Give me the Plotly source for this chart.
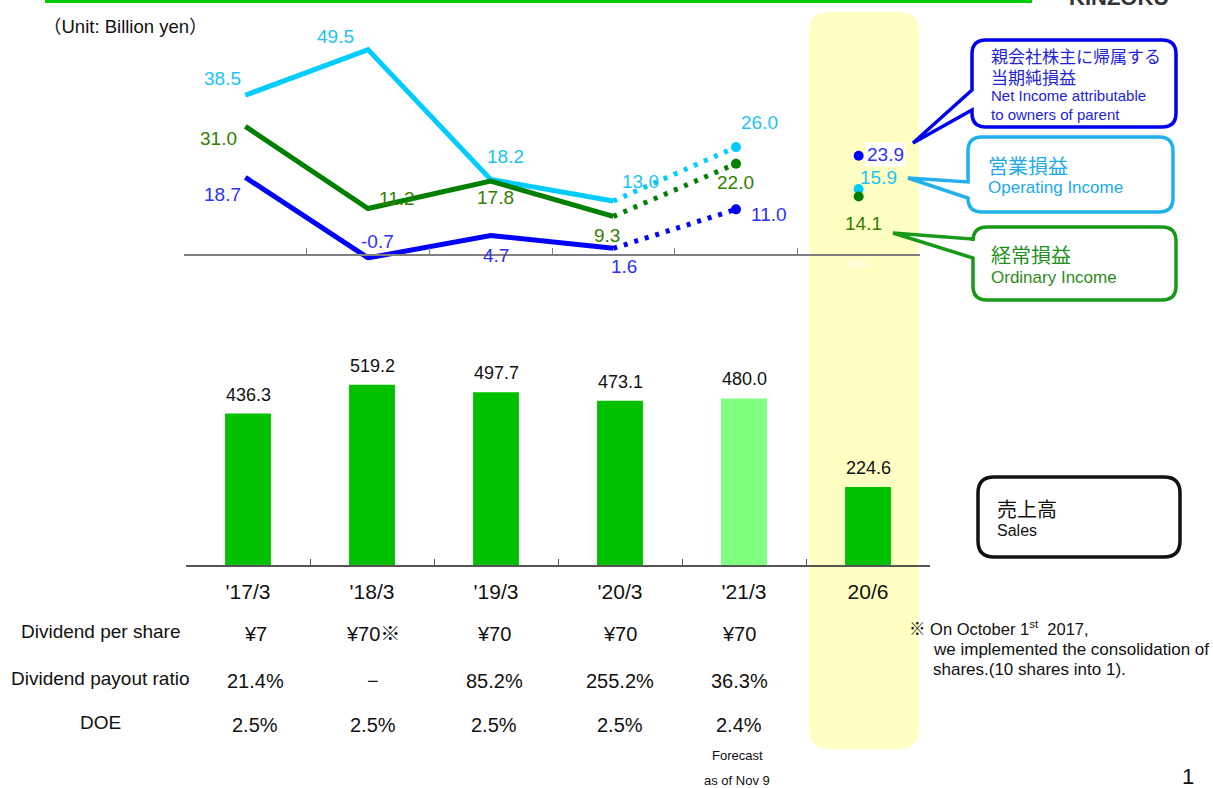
import plotly.graph_objects as go

# ---------------- data ----------------
categories = ["'17/3", "'18/3", "'19/3", "'20/3", "'21/3", "20/6"]
sales = [436.3, 519.2, 497.7, 473.1, 480.0, 224.6]
operating_income = [38.5, 49.5, 18.2, 13.0, 26.0, 15.9]
ordinary_income = [31.0, 11.2, 17.8, 9.3, 22.0, 14.1]
net_income = [18.7, -0.7, 4.7, 1.6, 11.0, 23.9]

table_rows = ["Dividend per share", "Dividend payout ratio", "DOE"]
dividend_per_share = ["¥7", "¥70※", "¥70", "¥70", "¥70"]
payout_ratio = ["21.4%", "−", "85.2%", "255.2%", "36.3%"]
doe = ["2.5%", "2.5%", "2.5%", "2.5%", "2.4%"]

# ---------------- helpers (pixel -> paper) ----------------
W, H = 1213, 788
def px(x):
    return x / W
def py(y):
    return 1 - y / H

FONT = "Liberation Sans, Arial, Noto Sans CJK JP, sans-serif"
JFONT = "Noto Sans CJK JP, Liberation Sans, sans-serif"

K_LINE = 4.15   # px per unit on the line chart
K_BAR = 0.347   # px per unit on the bar chart

fig = go.Figure()

# ---------------- line chart ----------------
series = [
    (operating_income, "#00CCFF", "#1EC3F0",
     [(-23, -17), (-33, -13), (15, -23), (27, -20), (23, -25), (20, -12)], None),
    (ordinary_income, "#008000", "#338000",
     [(-27, 12), (29, -10), (5, 16), (-6, 19), (-1, 19), (5, 27)], None),
    (net_income, "#0000FF", "#3030F0",
     [(-23, 17), (9, -16), (5, 20), (11, 18), (33, 5), (27, -1)], "white"),
]

annotations = []

for vals, lc, tc, offs, last_bg in series:
    fig.add_trace(go.Scatter(x=categories[:4], y=vals[:4], mode="lines",
                             line=dict(color=lc, width=5), xaxis="x", yaxis="y",
                             hoverinfo="skip", showlegend=False))
    fig.add_trace(go.Scatter(x=categories[3:5], y=vals[3:5], mode="lines",
                             line=dict(color=lc, width=5, dash="4px,7px"),
                             xaxis="x", yaxis="y", hoverinfo="skip", showlegend=False))
    fig.add_trace(go.Scatter(x=categories[4:], y=vals[4:], mode="markers",
                             marker=dict(color=lc, size=10),
                             xaxis="x", yaxis="y", hoverinfo="skip", showlegend=False))
    for i, (c, v) in enumerate(zip(categories, vals)):
        dx, dy = offs[i]
        a = dict(x=c, y=v, xref="x", yref="y", text=f"{v:.1f}", showarrow=False,
                 xshift=dx, yshift=-dy, font=dict(family=FONT, size=19, color=tc),
                 xanchor="center", yanchor="middle")
        if i == 5 and last_bg:
            a["bgcolor"] = last_bg
        annotations.append(a)

# ---------------- bar chart ----------------
bar_colors = ["#00C000", "#00C000", "#00C000", "#00C000", "#80FF80", "#00C000"]
fig.add_trace(go.Bar(x=categories, y=sales, marker=dict(color=bar_colors, line=dict(width=0)),
                     width=0.37, xaxis="x2", yaxis="y2", hoverinfo="skip", showlegend=False))
for c, v in zip(categories, sales):
    annotations.append(dict(x=c, y=v, xref="x2", yref="y2", text=f"{v:.1f}", showarrow=False,
                            yshift=19, font=dict(family=FONT, size=18, color="#111111"),
                            xanchor="center", yanchor="middle"))

# ---------------- shapes ----------------
def P(x, y):
    return f"{px(x):.5f},{py(y):.5f}"

def rpath(x0, y0, x1, y1, r, ptr=None):
    d = (f"M {P(x0 + r, y0)} L {P(x1 - r, y0)} Q {P(x1, y0)} {P(x1, y0 + r)} "
         f"L {P(x1, y1 - r)} Q {P(x1, y1)} {P(x1 - r, y1)} L {P(x0 + r, y1)} "
         f"Q {P(x0, y1)} {P(x0, y1 - r)}")
    if ptr:
        tx, ty, ju, jl = ptr
        d += f" L {P(x0, jl)} L {P(tx, ty)} L {P(x0, ju)}"
    d += f" L {P(x0, y0 + r)} Q {P(x0, y0)} {P(x0 + r, y0)} Z"
    return d

shapes = [
    dict(type="path", xref="paper", yref="paper", path=rpath(809, 12, 919, 749, 20),
         fillcolor="#FFFFC4", line=dict(width=0), layer="below"),
    dict(type="line", xref="paper", yref="paper", x0=px(45), x1=px(1032), y0=py(1.5), y1=py(1.5),
         line=dict(color="#00CC00", width=3)),
    dict(type="path", xref="paper", yref="paper",
         path=rpath(972, 40, 1176, 127, 14, (913, 143, 90, 110)),
         fillcolor="white", line=dict(color="#0000EE", width=3.5), layer="above"),
    dict(type="path", xref="paper", yref="paper",
         path=rpath(968, 137, 1173, 212, 14, (908, 178, 182, 198)),
         fillcolor="white", line=dict(color="#22B0EA", width=3.5), layer="above"),
    dict(type="path", xref="paper", yref="paper",
         path=rpath(973, 227, 1176, 300, 14, (893, 233, 239, 258)),
         fillcolor="white", line=dict(color="#189A18", width=3.5), layer="above"),
    dict(type="path", xref="paper", yref="paper",
         path=rpath(978, 477, 1180, 557, 16),
         fillcolor="white", line=dict(color="#111111", width=3.5), layer="above"),
]

# ---------------- free text ----------------
def txt(x, y, text, size, color="#111111", anchor="left", family=FONT, **kw):
    d = dict(x=px(x), y=py(y), xref="paper", yref="paper", text=text, showarrow=False,
             xanchor=anchor, yanchor="middle", font=dict(family=family, size=size, color=color))
    d.update(kw)
    annotations.append(d)

txt(41, 27, "（Unit: Billion yen）", 18.5)
txt(1119, -2, "<b>KINZOKU</b>", 22, "#333333", anchor="center")

txt(989, 56, "親会社株主に帰属する", 17, "#2323D8", family=JFONT)
txt(989, 77, "当期純損益", 17, "#2323D8", family=JFONT)
txt(989, 95, "Net Income attributable", 15, "#2323D8")
txt(989, 114, "to owners of parent", 15, "#2323D8")

txt(986, 165, "営業損益", 20, "#22AAE8", family=JFONT)
txt(986, 188, "Operating Income", 17, "#22AAE8")

txt(989, 254, "経常損益", 20, "#1E901E", family=JFONT)
txt(989, 277, "Ordinary Income", 17, "#2E8B1E")

txt(995, 508, "売上高", 20, "#111111", family=JFONT)
txt(995, 530, "Sales", 16, "#111111")

# table
row_y = [631, 678, 722]
col_x = [255, 373, 494, 620, 739]
for ry, label, vals in zip(row_y, table_rows, [dividend_per_share, payout_ratio, doe]):
    txt(100, ry, label, 19, anchor="center")
    for cx, v in zip(col_x, vals):
        txt(cx, ry + 3, v, 20, anchor="center")

txt(737, 755, "Forecast", 13, anchor="center")
txt(737, 780, "as of Nov 9", 13, anchor="center")

txt(907, 628, "※ On October 1<sup>st</sup>  2017,", 16.5, family=FONT + ", " + JFONT)
txt(931, 649, "we implemented the consolidation of", 17)
txt(931, 669, "shares.(10 shares into 1).", 17)

txt(1188, 776, "1", 22, anchor="center")

# ---------------- layout ----------------
fig.update_layout(
    width=W, height=H,
    margin=dict(l=0, r=0, t=0, b=0),
    paper_bgcolor="white", plot_bgcolor="rgba(0,0,0,0)",
    showlegend=False,
    font=dict(family=FONT),
    xaxis=dict(domain=[px(184), px(920)], type="category", categoryorder="array",
               categoryarray=categories, range=[-0.5, 5.5], anchor="free", position=py(255),
               showline=True, linecolor="#808080", linewidth=1.5, ticks="inside",
               tickson="boundaries", ticklen=6, tickcolor="#808080", tickwidth=1.2,
               tickfont=dict(size=10, color="white"), showgrid=False, zeroline=False,
               fixedrange=True),
    yaxis=dict(domain=[py(300), py(20)], range=[-(300 - 255) / K_LINE, (255 - 20) / K_LINE],
               visible=False, fixedrange=True),
    xaxis2=dict(domain=[px(186), px(930)], type="category", categoryorder="array",
                categoryarray=categories, range=[-0.5, 5.5], anchor="y2",
                showline=True, linecolor="#555555", linewidth=1.5, ticks="inside",
                tickson="boundaries", ticklen=6, tickcolor="#555555", tickwidth=1.2,
                tickfont=dict(size=21, color="#111111", family=FONT), ticklabelstandoff=7,
                showgrid=False, zeroline=False, fixedrange=True),
    yaxis2=dict(domain=[py(565), py(360)], range=[0, (565 - 360) / K_BAR],
                visible=False, fixedrange=True),
    shapes=shapes,
    annotations=annotations,
)

fig.write_html("out.html", config={"displayModeBar": False},
               post_script="document.body.style.margin='0';document.body.style.overflow='hidden';")
